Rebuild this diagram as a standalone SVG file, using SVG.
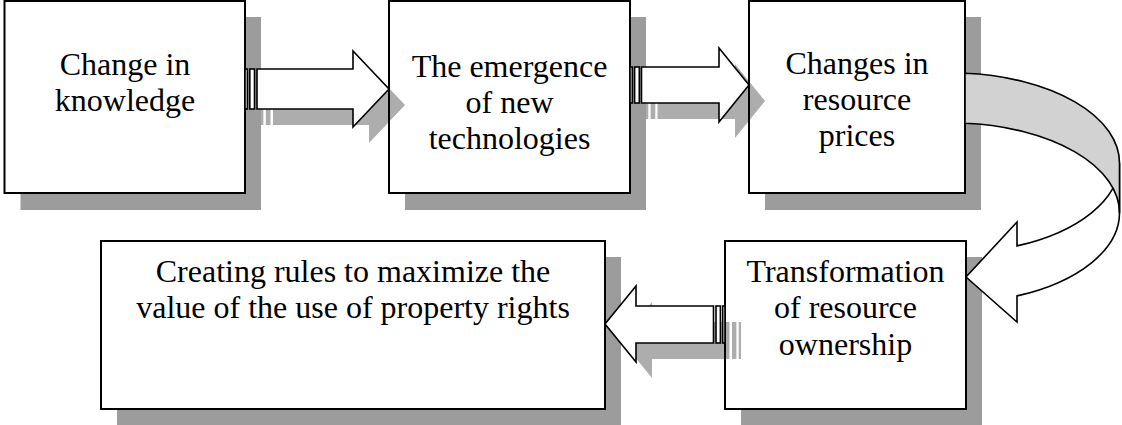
<svg xmlns="http://www.w3.org/2000/svg" width="1122" height="425" viewBox="0 0 1122 425">
<style>
.shadow{fill:#9c9c9c;}
.box{fill:#fff;stroke:#000;stroke-width:2;}
.ashadow{fill:#000;fill-opacity:0.32;}
.arrow{fill:#fff;stroke:#000;stroke-width:1.6;stroke-linejoin:miter;}
.lbl{font-family:"Liberation Serif","Times New Roman",serif;font-size:32px;fill:#000;text-anchor:middle;}
</style>
<rect width="1122" height="425" fill="#fff"/>
<g id="node-knowledge">
<rect class="shadow" x="20.5" y="17" width="240.5" height="193"/>
<rect class="box" x="4.5" y="1" width="240.5" height="192"/>
<text class="lbl" x="125" y="75">Change in</text>
<text class="lbl" x="125" y="111">knowledge</text>
</g>
<g id="node-technologies">
<rect class="shadow" x="405" y="17" width="241" height="193"/>
<rect class="box" x="389" y="1" width="241" height="192"/>
<text class="lbl" x="509.5" y="77">The emergence</text>
<text class="lbl" x="509.5" y="113">of new</text>
<text class="lbl" x="509.5" y="149">technologies</text>
</g>
<g id="node-prices">
<rect class="shadow" x="765" y="17" width="216" height="193"/>
<rect class="box" x="749" y="1" width="216" height="192"/>
<text class="lbl" x="857" y="74">Changes in</text>
<text class="lbl" x="857" y="110">resource</text>
<text class="lbl" x="857" y="146">prices</text>
</g>
<g id="node-ownership">
<rect class="shadow" x="741" y="257" width="241" height="168"/>
<rect class="box" x="725" y="241" width="241" height="168"/>
<text class="lbl" x="845.5" y="282">Transformation</text>
<text class="lbl" x="845.5" y="318">of resource</text>
<text class="lbl" x="845.5" y="355">ownership</text>
</g>
<g id="node-rules">
<rect class="shadow" x="117" y="257" width="504" height="168"/>
<rect class="box" x="101" y="241" width="504" height="168"/>
<text class="lbl" x="353" y="282">Creating rules to maximize the</text>
<text class="lbl" x="353" y="318">value of the use of property rights</text>
</g>
<g id="connectors">
<!-- arrow 1 shadow -->
<g transform="translate(16,16)">
<path class="ashadow" d="M245 69H247.4V109H245Z M249.8 69H254.5V109H249.8Z M257 69H353V51L389 89L353 127V109H257Z"/>
</g>
<!-- arrow 2 shadow -->
<g transform="translate(16,16)">
<path class="ashadow" d="M630 67H632.3V103H630Z M634.6 67H639.3V103H634.6Z M641.5 67H719V48L749 85L719 122V103H641.5Z"/>
</g>
<!-- arrow 3 shadow -->
<g transform="translate(16,16)">
<path class="ashadow" d="M725 306H722.7V343H725Z M720.4 306H716V343H720.4Z M713.5 306H636V286L605 324L636 362V343H713.5Z"/>
</g>
<!-- arrow 1 -->
<g id="arrow-1">
<rect class="arrow" x="245" y="69" width="2.4" height="40"/>
<rect class="arrow" x="249.8" y="69" width="4.7" height="40"/>
<path class="arrow" d="M257 69H353V51L389 89L353 127V109H257Z"/>
</g>
<!-- arrow 2 -->
<g id="arrow-2">
<rect class="arrow" x="630" y="67" width="2.3" height="36"/>
<rect class="arrow" x="634.6" y="67" width="4.7" height="36"/>
<path class="arrow" d="M641.5 67H719V48L749 85L719 122V103H641.5Z"/>
</g>
<!-- arrow 3 -->
<g id="arrow-3">
<rect class="arrow" x="722.7" y="306" width="2.3" height="37"/>
<rect class="arrow" x="716" y="306" width="4.4" height="37"/>
<path class="arrow" d="M713.5 306H636V286L605 324L636 362V343H713.5Z"/>
</g>
<!-- curved arrow -->
<g id="arrow-curved">
<path class="arrow" d="M1119.5 163A167.5 90 0 0 1 1017 245.9L1017 222L966 277L1017 322L1017 295.9A167.5 90 0 0 0 1119.5 213Z"/>
<path fill="#d2d2d2" stroke="#000" stroke-width="1.6" d="M965 73.3A167.5 90 0 0 1 1119.5 163L1119.5 213A167.5 90 0 0 0 965 123.3Z"/>
</g>
</g>
</svg>
